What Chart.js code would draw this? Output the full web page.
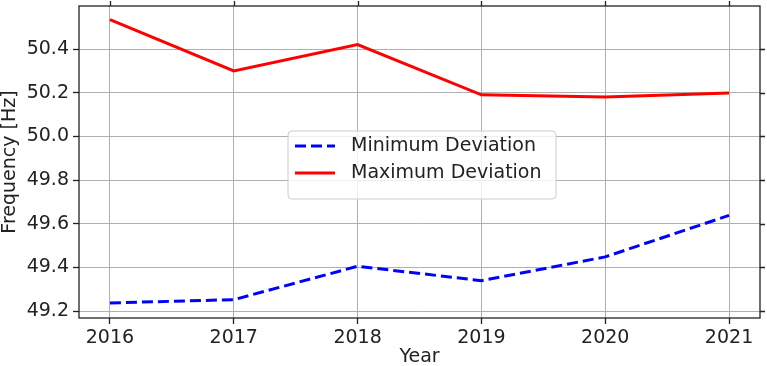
<!DOCTYPE html>
<html>
<head>
<meta charset="utf-8">
<script src="https://cdn.jsdelivr.net/npm/chart.js@4"></script>
<style>
  html, body { margin: 0; padding: 0; background: #fff; }
  #wrap { width: 767px; height: 366px; }
</style>
</head>
<body>
<div id="wrap"><canvas id="myChart" width="767" height="366"></canvas></div>
<script>
const years = [2016, 2017, 2018, 2019, 2020, 2021];
const minDeviation = [49.237, 49.252, 49.405, 49.339, 49.448, 49.638];
const maxDeviation = [50.535, 50.300, 50.420, 50.190, 50.180, 50.198];
const yTicks = [49.2, 49.4, 49.6, 49.8, 50.0, 50.2, 50.4];

const FONT = 'DejaVu Sans';
const INK = '#222222';

// spines + mirrored tick marks on top and right, like matplotlib's box
const frame = {
    id: 'frame',
    afterDraw(chart) {
        const { ctx, chartArea: a, scales } = chart;
        ctx.save();
        ctx.strokeStyle = INK;
        ctx.lineWidth = 1.3;
        ctx.strokeRect(a.left, a.top, a.right - a.left, a.bottom - a.top);
        ctx.beginPath();
        years.forEach(v => {
            const x = Math.round(scales.x.getPixelForValue(v)) + 0.5;
            ctx.moveTo(x, a.top);
            ctx.lineTo(x, a.top - 5);
        });
        yTicks.forEach(v => {
            const y = Math.round(scales.y.getPixelForValue(v)) + 0.5;
            ctx.moveTo(a.right, y);
            ctx.lineTo(a.right + 5, y);
        });
        ctx.stroke();
        ctx.restore();
    }
};

// legend box placed in the middle of the axes
const centerLegend = {
    id: 'centerLegend',
    afterDatasetsDraw(chart) {
        const { ctx, chartArea: a } = chart;
        const cx = (a.left + a.right) / 2 + 2.5;
        const cy = (a.top + a.bottom) / 2 + 3;
        const w = 268, h = 68;
        const x0 = cx - w / 2, y0 = cy - h / 2;
        ctx.save();
        ctx.beginPath();
        ctx.roundRect(x0, y0, w, h, 4);
        ctx.fillStyle = 'rgba(255,255,255,0.8)';
        ctx.fill();
        ctx.strokeStyle = '#cccccc';
        ctx.lineWidth = 1;
        ctx.stroke();
        ctx.font = '19px "' + FONT + '"';
        ctx.textBaseline = 'middle';
        ctx.fillStyle = INK;
        chart.data.datasets.forEach((ds, i) => {
            const ly = y0 + 15 + i * 27;
            ctx.beginPath();
            ctx.strokeStyle = ds.borderColor;
            ctx.lineWidth = ds.borderWidth;
            ctx.setLineDash(ds.borderDash || []);
            ctx.moveTo(x0 + 7, ly);
            ctx.lineTo(x0 + 47, ly);
            ctx.stroke();
            ctx.setLineDash([]);
            ctx.fillText(ds.label, x0 + 63, ly);
        });
        ctx.restore();
    }
};

const data = {
    datasets: [{
        label: 'Minimum Deviation',
        data: years.map((x, i) => ({ x: x, y: minDeviation[i] })),
        borderColor: '#0000ff',
        borderWidth: 3,
        borderDash: [11, 5],
        pointRadius: 0,
        tension: 0,
    }, {
        label: 'Maximum Deviation',
        data: years.map((x, i) => ({ x: x, y: maxDeviation[i] })),
        borderColor: '#ff0000',
        borderWidth: 3,
        pointRadius: 0,
        tension: 0,
    }],
};

const config = {
    type: 'line',
    data: data,
    options: {
        responsive: false,
        animation: false,
        layout: { padding: { left: 0, right: 7, top: 6, bottom: 0 } },
        plugins: {
            legend: { display: false },
            tooltip: { enabled: false },
        },
        scales: {
            x: {
                type: 'linear',
                min: 2015.75,
                max: 2021.25,
                afterBuildTicks: s => { s.ticks = years.map(v => ({ value: v })); },
                afterFit: s => { s.height = 48; s.paddingLeft = 0; s.paddingRight = 0; },
                grid: { color: '#b0b0b0', lineWidth: 1, tickLength: 6, tickColor: INK, tickWidth: 1.3 },
                border: { display: false },
                ticks: {
                    color: INK,
                    padding: 3,
                    maxRotation: 0,
                    font: { family: FONT, size: 19 },
                    callback: v => String(v),
                },
                title: {
                    display: true,
                    text: 'Year',
                    color: INK,
                    padding: { top: 0, bottom: -2 },
                    font: { family: FONT, size: 19, lineHeight: 1.1 },
                },
            },
            y: {
                min: 49.168,
                max: 50.597,
                afterBuildTicks: s => { s.ticks = yTicks.map(v => ({ value: v })); },
                afterFit: s => { s.width = 79; s.paddingTop = 0; s.paddingBottom = 0; },
                grid: { color: '#b0b0b0', lineWidth: 1, tickLength: 6, tickColor: INK, tickWidth: 1.3 },
                border: { display: false },
                ticks: {
                    color: INK,
                    padding: 4,
                    font: { family: FONT, size: 19 },
                    callback: v => v.toFixed(1),
                },
                title: {
                    display: true,
                    text: 'Frequency [Hz]',
                    color: INK,
                    padding: 0,
                    font: { family: FONT, size: 19, lineHeight: 1.1 },
                },
            },
        },
    },
    plugins: [centerLegend, frame],
};

const ctx = document.getElementById('myChart').getContext('2d');
const myChart = new Chart(ctx, config);
</script>
</body>
</html>
